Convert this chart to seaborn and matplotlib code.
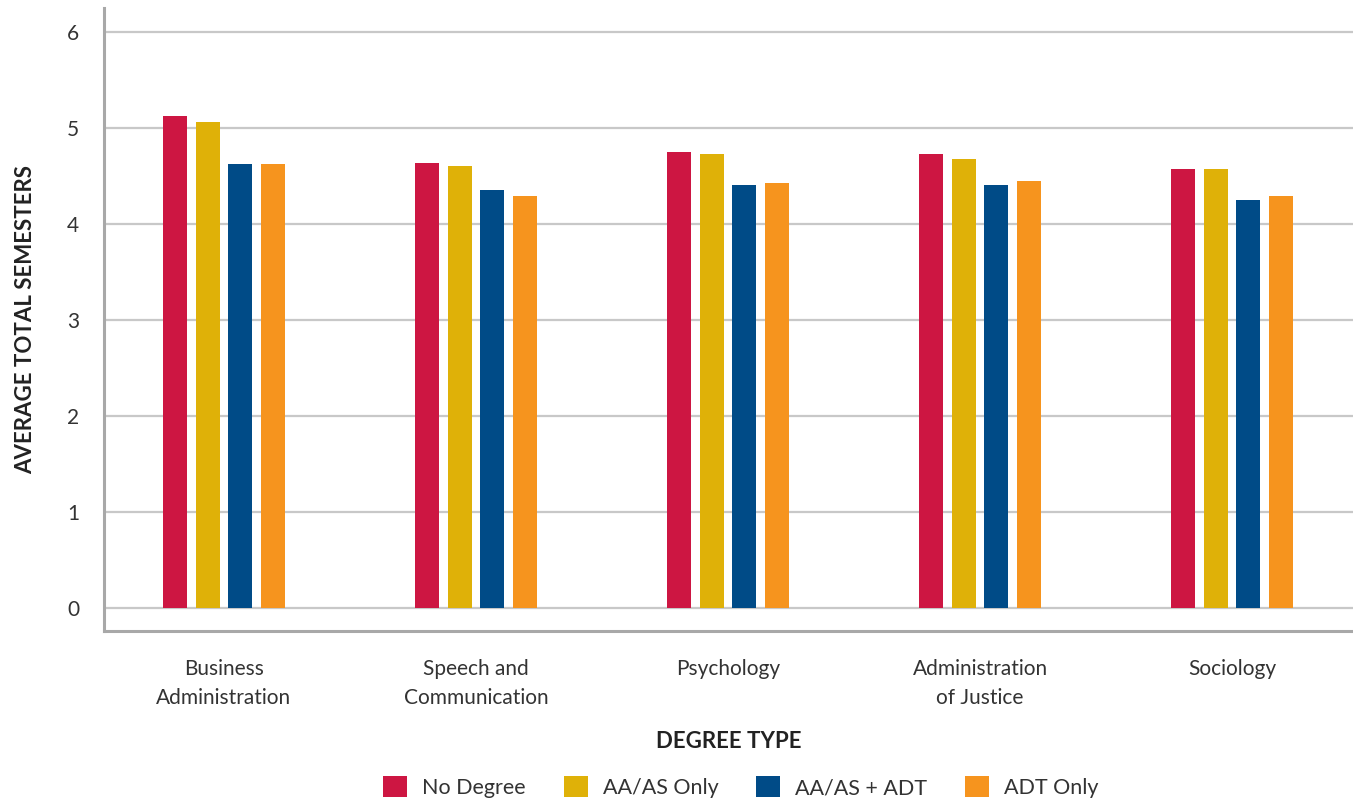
import pandas as pd
import numpy as np
import matplotlib.pyplot as plt
import seaborn as sns

# ------------------------------------------------------------------
# data
# ------------------------------------------------------------------
majors = ['Business\nAdministration', 'Speech and\nCommunication', 'Psychology',
          'Administration\nof Justice', 'Sociology']
groups = ['No Degree', 'AA/AS Only', 'AA/AS + ADT', 'ADT Only']

no_degree = [5.13, 4.64, 4.75, 4.73, 4.57]
aa_as_only = [5.06, 4.60, 4.73, 4.68, 4.57]
aa_as_adt = [4.62, 4.35, 4.41, 4.41, 4.25]
adt_only = [4.62, 4.29, 4.43, 4.45, 4.29]

y_ticks = [0, 1, 2, 3, 4, 5, 6]

COLORS = ['#CD1642', '#DFB108', '#004B87', '#F6941E']
GRID = '#C8C8C8'
SPINE = '#A8A8A8'
TXT = '#333333'

sns.set_style('white')
plt.rcParams['font.family'] = ['Lato', 'DejaVu Sans']

df = pd.DataFrame({
    'major': majors * 4,
    'group': [g for g in groups for _ in majors],
    'value': no_degree + aa_as_only + aa_as_adt + adt_only,
})

fig = plt.figure(figsize=(13.53, 8.0), dpi=100)
ax = fig.add_axes([104 / 1353, 169 / 800, 1 - 104 / 1353, (631 - 8) / 800])

sns.barplot(data=df, x='major', y='value', hue='group', order=majors,
            hue_order=groups, palette=COLORS, width=0.52, gap=0.27,
            saturation=1, errorbar=None, linewidth=0, ax=ax)

ax.set_ylim(-0.24, 6.25)
ax.set_xlim(-0.476, 4.48)
ax.set_yticks(y_ticks)
ax.yaxis.grid(True, color=GRID, linewidth=1.6)
ax.set_axisbelow(True)

for s in ['top', 'right']:
    ax.spines[s].set_visible(False)
for s in ['left', 'bottom']:
    ax.spines[s].set_color(SPINE)
    ax.spines[s].set_linewidth(2.2)

ax.tick_params(axis='y', length=8, width=1.3, color=GRID, pad=10,
               labelsize=15, labelcolor=TXT)
ax.tick_params(axis='x', length=8, width=1.6, color=GRID, pad=12,
               labelsize=15, labelcolor=TXT)
for t in ax.get_xticklabels():
    t.set_linespacing(1.55)

ax.set_ylabel('AVERAGE TOTAL SEMESTERS', fontsize=16, fontweight='bold',
              color='#222222', labelpad=22)
ax.set_xlabel('DEGREE TYPE', fontsize=16, fontweight='bold',
              color='#222222', labelpad=17)

handles, labels = ax.get_legend_handles_labels()
ax.legend(handles, labels, loc='center', bbox_to_anchor=(0.51, -0.251),
          ncol=4, frameon=False, fontsize=15.5, handlelength=1.12,
          handleheight=1.12, handletextpad=0.7, columnspacing=1.75,
          labelcolor=TXT)

fig.savefig('out.png', dpi=100)
